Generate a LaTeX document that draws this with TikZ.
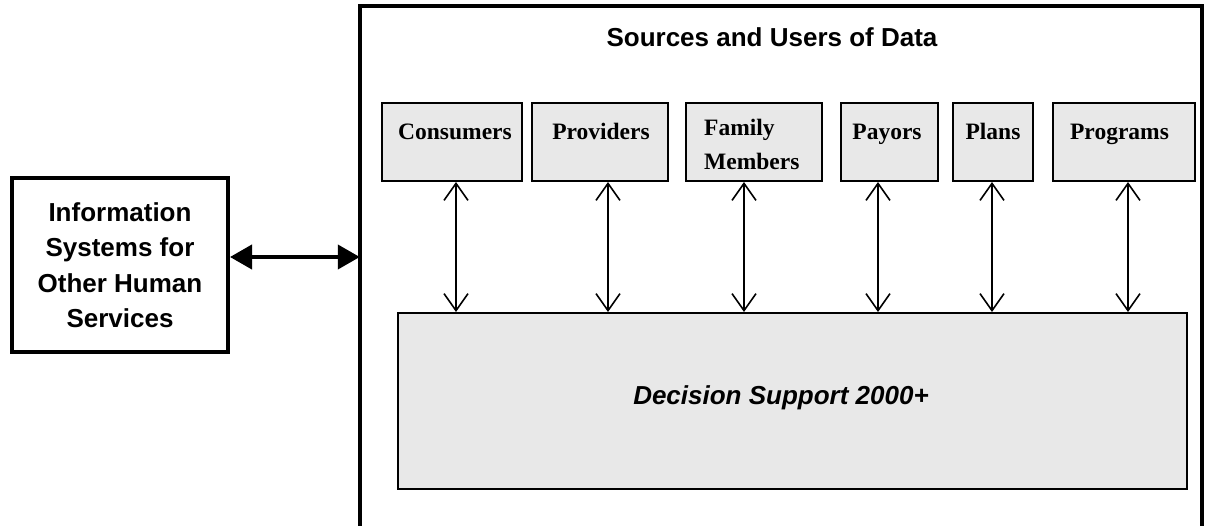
\documentclass[tikz,border=0pt]{standalone}
\usepackage{fontspec}
\setmainfont{Liberation Sans}
\newfontfamily\tnr{Liberation Serif}
\usetikzlibrary{arrows.meta}
\definecolor{boxgray}{RGB}{232,232,232}
\tikzset{
  topbox/.style={draw, fill=boxgray, line width=2pt, minimum height=78pt, inner sep=0pt},
  toptext/.style={font=\tnr\bfseries\fontsize{23.5}{33}\selectfont, anchor=base, inner sep=0pt},
  varrow/.style={line width=1.6pt, {Straight Barb[length=17pt,width=24pt,line width=1.6pt]}-{Straight Barb[length=17pt,width=24pt,line width=1.6pt]}},
  harrow/.style={line width=4pt, {Triangle[length=22pt,width=24pt]}-{Triangle[length=22pt,width=24pt]}},
  sanstext/.style={font=\bfseries\fontsize{26}{35.5}\selectfont, inner sep=0pt}
}
\begin{document}
\begin{tikzpicture}[x=1pt,y=-1pt]
\useasboundingbox (0,0) rectangle (1207,525);
% outer frame (open at the bottom)
\node[minimum width=842pt, minimum height=540pt, inner sep=0pt] (outer) at (781,276.5) {};
\draw[line width=4pt, line join=miter] (outer.south west) -- (outer.north west) -- (outer.north east) -- (outer.south east);
\node[sanstext, anchor=base] (title) at (772,46) {Sources and Users of Data};
% left box
\node[draw, line width=4pt, minimum width=216pt, minimum height=174pt, inner sep=0pt, sanstext, align=center] (info) at (120,265)
  {Information\\Systems for\\Other Human\\Services};
% top boxes
\node[topbox, minimum width=140pt] (cons) at (452,142) {};
\node[topbox, minimum width=136pt] (prov) at (600,142) {};
\node[topbox, minimum width=136pt] (fam) at (754,142) {};
\node[topbox, minimum width=97pt] (pay) at (889.5,142) {};
\node[topbox, minimum width=80pt] (plan) at (993,142) {};
\node[topbox, minimum width=142pt] (prog) at (1124,142) {};
\node[toptext] (consT) at (455,139) {Consumers};
\node[toptext] (provT) at (601,139) {Providers};
\node[toptext, anchor=base west] (famT1) at (704,135) {Family};
\node[toptext, anchor=base west] (famT2) at (704,169) {Members};
\node[toptext] (payT) at (887,139) {Payors};
\node[toptext] (planT) at (993,139) {Plans};
\node[toptext] (progT) at (1119.5,139) {Programs};
% decision support box
\node[draw, fill=boxgray, line width=2pt, minimum width=789pt, minimum height=176pt, inner sep=0pt] (dec) at (792.5,401) {};
\node[sanstext, font=\bfseries\itshape\fontsize{26}{30}\selectfont] (decT) at (781,398) {Decision Support 2000+};
% connectors
\draw[varrow] (456,0 |- cons.south) -- (456,0 |- dec.north);
\draw[varrow] (608,0 |- prov.south) -- (608,0 |- dec.north);
\draw[varrow] (744,0 |- fam.south) -- (744,0 |- dec.north);
\draw[varrow] (878,0 |- pay.south) -- (878,0 |- dec.north);
\draw[varrow] (992,0 |- plan.south) -- (992,0 |- dec.north);
\draw[varrow] (1128,0 |- prog.south) -- (1128,0 |- dec.north);
\draw[harrow] (info.east |- 0,257) -- (outer.west |- 0,257);
\end{tikzpicture}
\end{document}
